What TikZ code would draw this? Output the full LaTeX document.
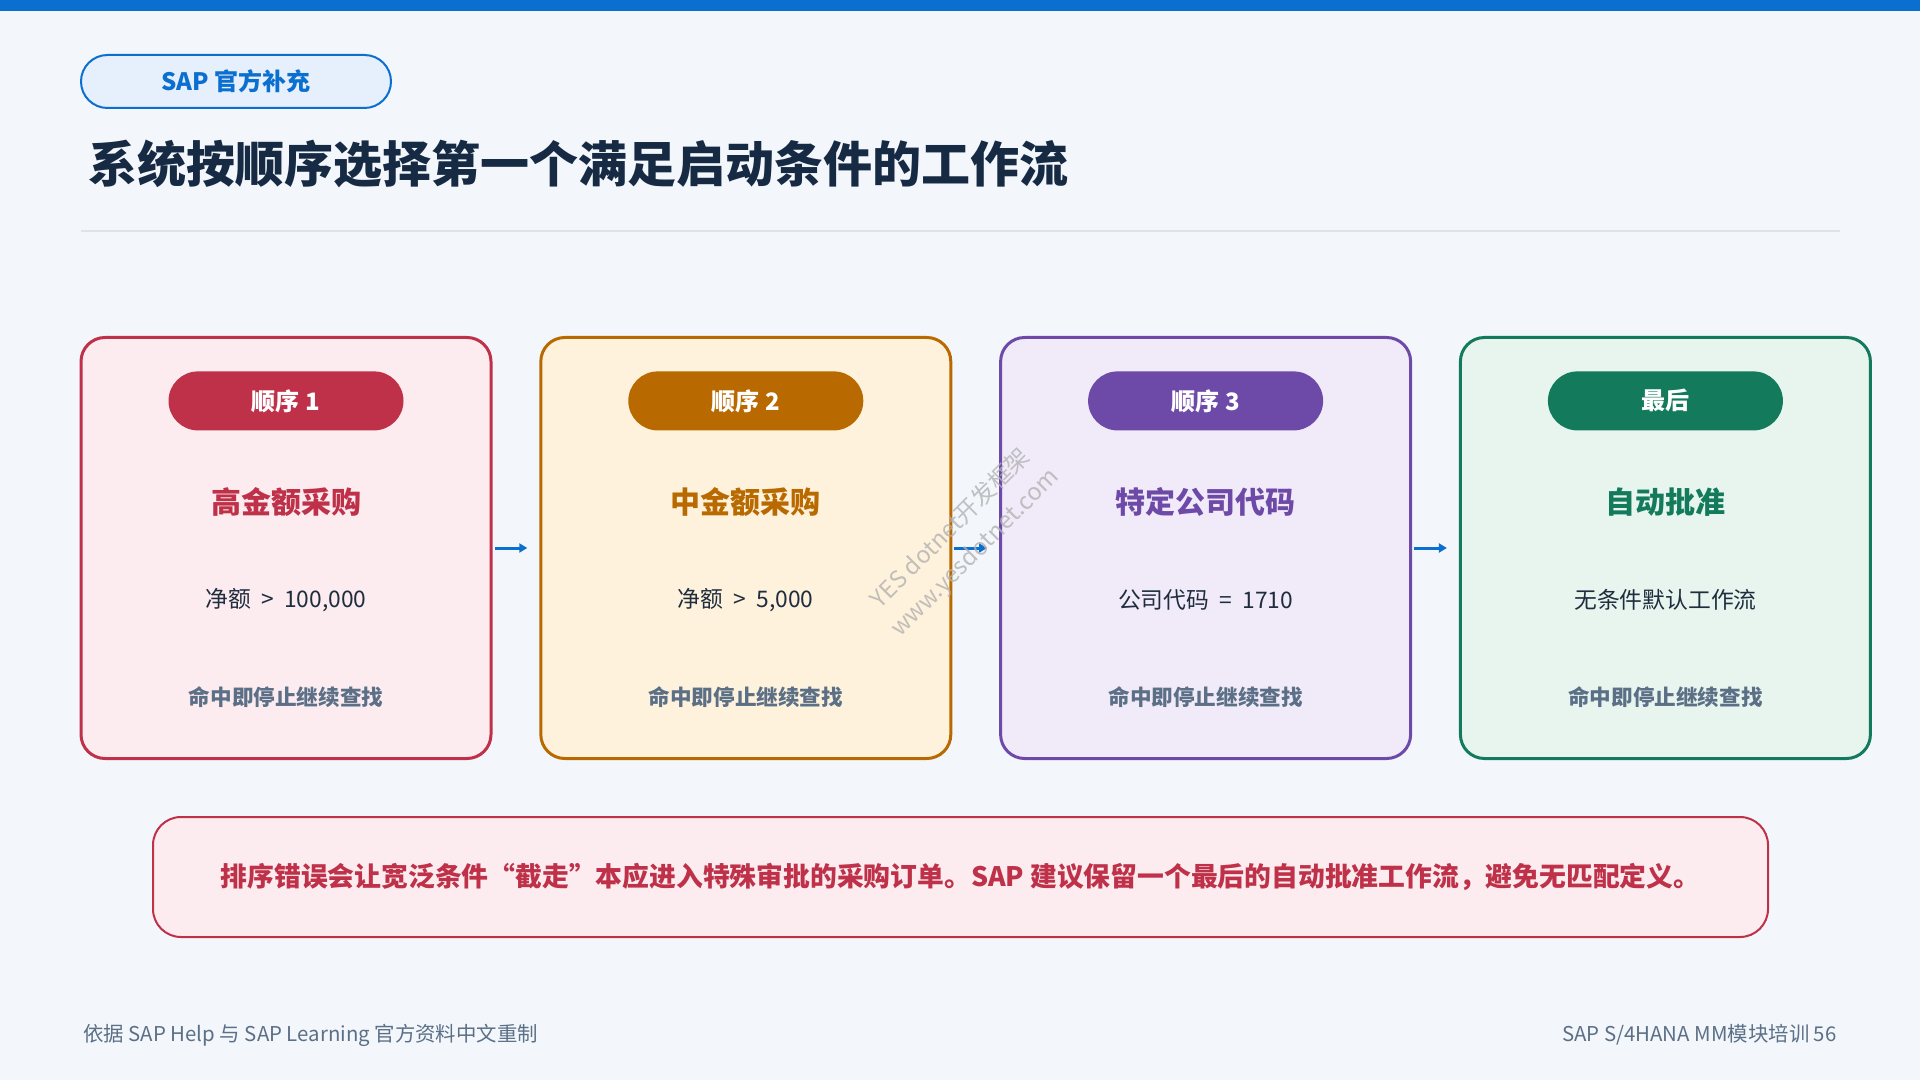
\documentclass[tikz,border=0pt]{standalone}
\usepackage{fontspec}
\setmainfont{Noto Sans CJK SC}
\usepackage{tikz}
\usetikzlibrary{arrows.meta, positioning, calc}
\usepackage{xcolor}

\definecolor{pagebg}{HTML}{F3F7FC}
\definecolor{sapblue}{HTML}{0B6FD0}
\definecolor{badgefill}{HTML}{E6F0FC}
\definecolor{titleink}{HTML}{172A44}
\definecolor{ruleline}{HTML}{DCE3EB}
\definecolor{bodyink}{HTML}{1F2D3F}
\definecolor{mutedink}{HTML}{5B6F86}
\definecolor{redink}{HTML}{BE3149}
\definecolor{redfill}{HTML}{FCEBEF}
\definecolor{amberink}{HTML}{B86A00}
\definecolor{amberfill}{HTML}{FFF2DC}
\definecolor{violetink}{HTML}{6E4AA8}
\definecolor{violetfill}{HTML}{F1EAF9}
\definecolor{greenink}{HTML}{137A5C}
\definecolor{greenfill}{HTML}{E7F5EE}

\begin{document}
\begin{tikzpicture}[
    x=0.5pt, y=-0.5pt,
    card/.style={
        rectangle,
        draw=#1ink,
        fill=#1fill,
        line width=1.5pt,
        rounded corners=12pt,
        minimum width=205pt,
        minimum height=210.5pt,
        inner sep=0pt
    },
    order_pill/.style={
        rectangle,
        fill=#1ink,
        rounded corners=14.75pt,
        minimum width=117.5pt,
        minimum height=29.5pt,
        inner sep=0pt,
        text=white,
        font=\fontsize{12pt}{14pt}\selectfont\bfseries
    },
    card_head/.style={
        text=#1ink,
        inner sep=0pt,
        font=\fontsize{15pt}{18pt}\selectfont\bfseries
    },
    card_rule/.style={
        text=bodyink,
        inner sep=0pt,
        font=\fontsize{11.4pt}{13pt}\selectfont
    },
    card_stop/.style={
        text=mutedink,
        inner sep=0pt,
        font=\fontsize{10.8pt}{13pt}\selectfont\bfseries
    },
    flow_arrow/.style={
        -{Triangle[length=4pt,width=4.5pt]},
        line width=1.5pt,
        draw=sapblue,
        shorten <=1pt,
        shorten >=6pt
    },
    footer/.style={
        text=mutedink,
        inner sep=0pt,
        font=\fontsize{10.2pt}{12pt}\selectfont
    }
]

% Page background and top band
\fill[pagebg] (0,0) rectangle (1920,1080);
\fill[sapblue] (0,0) rectangle (1920,11);

% Header: badge, title and rule
\node[rectangle, draw=sapblue, fill=badgefill, line width=1pt,
      rounded corners=13.25pt, minimum width=155pt, minimum height=26.5pt,
      inner sep=0pt, text=sapblue, font=\fontsize{12pt}{14pt}\selectfont\bfseries]
      (badge) at (236,81.5) {SAP 官方补充};
\node[anchor=west, inner sep=0pt, text=titleink,
      font=\fontsize{24.5pt}{29pt}\selectfont\bfseries]
      (title) at (88,164) {系统按顺序选择第一个满足启动条件的工作流};
\coordinate (rule_l) at (81,231);
\coordinate (rule_r) at (1840,231);
\draw[ruleline, line width=1pt] (rule_l) -- (rule_r);

% Cards in evaluation order
\node[card=red] (c1) at (286,548) {};
\node[card=amber, right=23.4pt of c1] (c2) {};
\node[card=violet, right=23.4pt of c2] (c3) {};
\node[card=green, right=23.4pt of c3] (c4) {};

% Card 1: high amount
\node[order_pill=red, below=17.5pt of c1.north] (p1) {顺序 1};
\node[card_head=red] (h1) at ([yshift=23pt]c1.center) {高金额采购};
\node[card_rule] (r1) at ([yshift=-26pt]c1.center) {净额~~>~~100,000};
\node[card_stop] (s1) at ([yshift=-74.5pt]c1.center) {命中即停止继续查找};

% Card 2: medium amount
\node[order_pill=amber, below=17.5pt of c2.north] (p2) {顺序 2};
\node[card_head=amber] (h2) at ([yshift=23pt]c2.center) {中金额采购};
\node[card_rule] (r2) at ([yshift=-26pt]c2.center) {净额~~>~~5,000};
\node[card_stop] (s2) at ([yshift=-74.5pt]c2.center) {命中即停止继续查找};

% Card 3: company code
\node[order_pill=violet, below=17.5pt of c3.north] (p3) {顺序 3};
\node[card_head=violet] (h3) at ([yshift=23pt]c3.center) {特定公司代码};
\node[card_rule] (r3) at ([yshift=-26pt]c3.center) {公司代码~~=~~1710};
\node[card_stop] (s3) at ([yshift=-74.5pt]c3.center) {命中即停止继续查找};

% Card 4: fallback
\node[order_pill=green, below=17.5pt of c4.north] (p4) {最后};
\node[card_head=green] (h4) at ([yshift=23pt]c4.center) {自动批准};
\node[card_rule] (r4) at ([yshift=-26pt]c4.center) {无条件默认工作流};
\node[card_stop] (s4) at ([yshift=-74.5pt]c4.center) {命中即停止继续查找};

% Order connectors
\draw[flow_arrow] (c1) -- (c2);
\draw[flow_arrow] (c2) -- (c3);
\draw[flow_arrow] (c3) -- (c4);

% Watermark
\node[rotate=45, align=center, text=gray!60, opacity=0.8, inner sep=0pt,
      font=\fontsize{11.8pt}{17pt}\selectfont]
      (mark) at (963,541) {YES dotnet开发框架\\www.yesdotnet.com};

% Warning note
\node[rectangle, draw=redink, fill=redfill, line width=1pt,
      rounded corners=14pt, minimum width=807.5pt, minimum height=60pt,
      inner sep=0pt, text=redink, font=\fontsize{13.4pt}{16pt}\selectfont\bfseries]
      (note) at (960.5,877) {排序错误会让宽泛条件“截走”本应进入特殊审批的采购订单。SAP 建议保留一个最后的自动批准工作流，避免无匹配定义。};

% Footer
\node[footer, anchor=west] (src) at (83,1035) {依据 SAP Help 与 SAP Learning 官方资料中文重制};
\node[footer, anchor=east] (pageno) at (1837,1035) {SAP S/4HANA MM模块培训 56};

\end{tikzpicture}
\end{document}
